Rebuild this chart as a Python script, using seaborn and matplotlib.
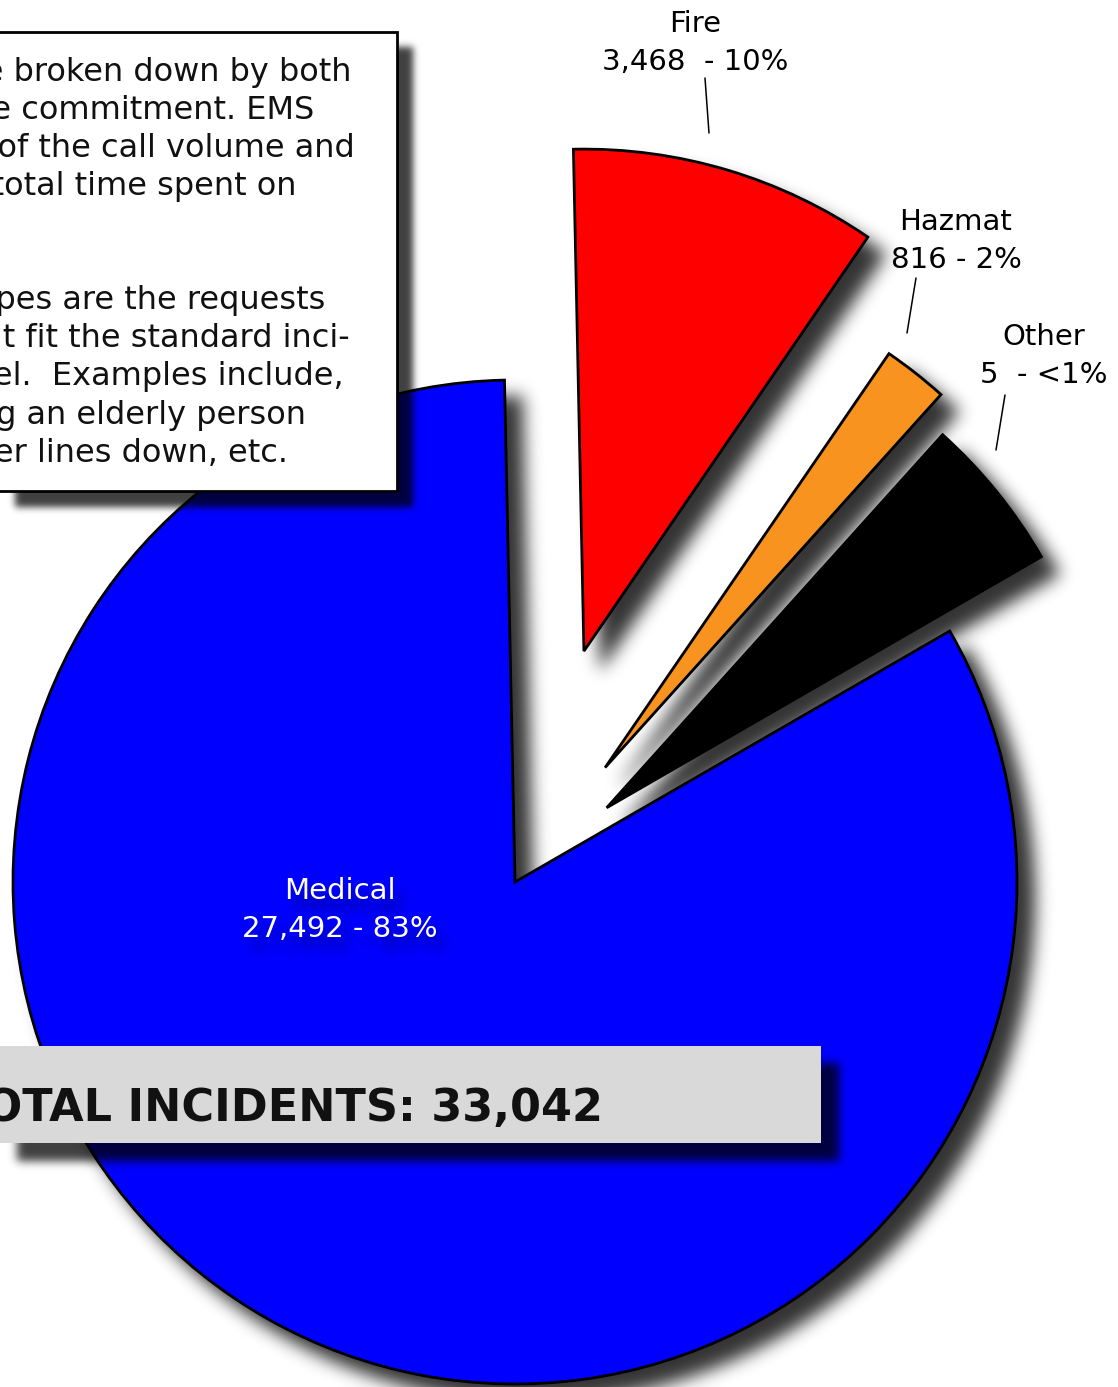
import numpy as np
import matplotlib
matplotlib.use("Agg")
import matplotlib.pyplot as plt
from matplotlib.patches import Rectangle, Wedge
import seaborn as sns

# slices, in clockwise order starting from the top
categories = ["Fire", "Hazmat", "Other", "Medical"]
value_labels = ["3,468  - 10%", "816 - 2%", "5  - <1%", "27,492 - 83%"]
share_pct = [9.9, 2.1, 5.0, 83.0]          # slice sizes as drawn
slice_colors = ["#ff0000", "#f7931e", "#000000", "#0000ff"]
explode = [0.48, 0.29, 0.235, 0.0]         # fraction of the radius

total_label = "TOTAL INCIDENTS: 33,042"

# note box, cut off at the left edge of the page
note_lines = [
    "Incidents are broken down by both",
    "type and time commitment. EMS",
    "makes up most of the call volume and",
    "most of the total time spent on",
    "incidents.",
    "",
    "Other types are the requests",
    "that don't fit the standard inci-",
    "dent model.  Examples include,",
    "lifting an elderly person",
    "power lines down, etc.",
]
note_right = [351, 314, 355, 297, -40, 0, 325, 350, 344, 306, 288]


def gauss_blur(a, sigma):
    r = int(3 * sigma)
    k = np.exp(-0.5 * (np.arange(-r, r + 1) / sigma) ** 2)
    k /= k.sum()
    a = np.apply_along_axis(lambda v: np.convolve(v, k, mode="same"), 0, a)
    a = np.apply_along_axis(lambda v: np.convolve(v, k, mode="same"), 1, a)
    return a


class DropShadow:
    def __init__(self, dx=16, dy=16, sigma=6, alpha=0.72):
        self.dx, self.dy, self.sigma, self.alpha = dx, dy, sigma, alpha

    def __call__(self, im, dpi):
        pad = int(3 * self.sigma + max(self.dx, self.dy)) + 2
        a = np.pad(im[:, :, 3], pad)
        if self.sigma > 0:
            a = gauss_blur(a, self.sigma)
        a = np.roll(np.roll(a, self.dx, axis=1), self.dy, axis=0)
        out = np.zeros(a.shape + (4,))
        out[:, :, 3] = np.clip(a * self.alpha, 0, 1)
        return out, -pad, -pad


sns.set_theme(style="white")
plt.rcParams["font.family"] = ["DejaVu Sans"]

W, H = 1118, 1387
R = 502
fig = plt.figure(figsize=(W / 100, H / 100), dpi=100)
ax = fig.add_axes([0, 0, 1, 1])

wedges, _ = ax.pie(share_pct, colors=slice_colors,
                   explode=[e * R for e in explode],
                   startangle=91.2, counterclock=False, radius=R,
                   center=(515, H - 882),
                   wedgeprops=dict(edgecolor="black", linewidth=2, zorder=2))

# blurred drop shadows under the slices
for w in wedges:
    sh = Wedge(w.center, w.r, w.theta1, w.theta2, facecolor="black",
               edgecolor="black", lw=2, zorder=1)
    sh.set_agg_filter(DropShadow(17, 17, 8.5, 0.8))
    ax.add_patch(sh)

ax.set_xlim(0, W)
ax.set_ylim(0, H)
ax.axis("off")

# labels
label_pos = [(695, H - 32), (956, H - 230), (1044, H - 345), (340, H - 899)]
label_col = ["black", "black", "black", "white"]
for name, val, (x, y), c in zip(categories, value_labels, label_pos, label_col):
    for txt, yy in [(name, y), (val, y - 38)]:
        if c == "white":
            s = ax.text(x, yy, txt, ha="center", va="baseline", fontsize=21,
                        color="black", zorder=3)
            s.set_agg_filter(DropShadow(8, 12, 6, 0.45))
        ax.text(x, yy, txt, ha="center", va="baseline", fontsize=21,
                color=c, zorder=4)

leaders = [((705, 78), (709, 133)), ((916, 278), (907, 333)),
           ((1005, 395), (996, 450))]
for (x1, y1), (x2, y2) in leaders:
    ax.plot([x1, x2], [H - y1, H - y2], color="black", lw=1.1, zorder=4)

# note box
box_sh = Rectangle((-20, H - 491), 417, 459, facecolor="black", zorder=5)
box_sh.set_agg_filter(DropShadow(15, 15, 3.5, 0.75))
ax.add_patch(box_sh)
ax.add_patch(Rectangle((-20, H - 491), 417, 459, facecolor="white",
                       edgecolor="black", lw=2, zorder=6))
for i, (line, xr) in enumerate(zip(note_lines, note_right)):
    ax.text(xr, H - (80.7 + 38.1 * i), line, ha="right", va="baseline",
            fontsize=23, color="#111111", zorder=7)

# total bar
bar_sh = Rectangle((-20, H - 1143), 841, 97, facecolor="black", zorder=5)
bar_sh.set_agg_filter(DropShadow(17, 17, 4.5, 0.75))
ax.add_patch(bar_sh)
ax.add_patch(Rectangle((-20, H - 1143), 841, 97, facecolor="#d9d9d9",
                       edgecolor="none", zorder=6))
ax.text(603, H - 1121, total_label, ha="right", va="baseline", fontsize=32,
        fontweight="bold", color="#111111", zorder=7)

fig.savefig("out.png", dpi=100)
